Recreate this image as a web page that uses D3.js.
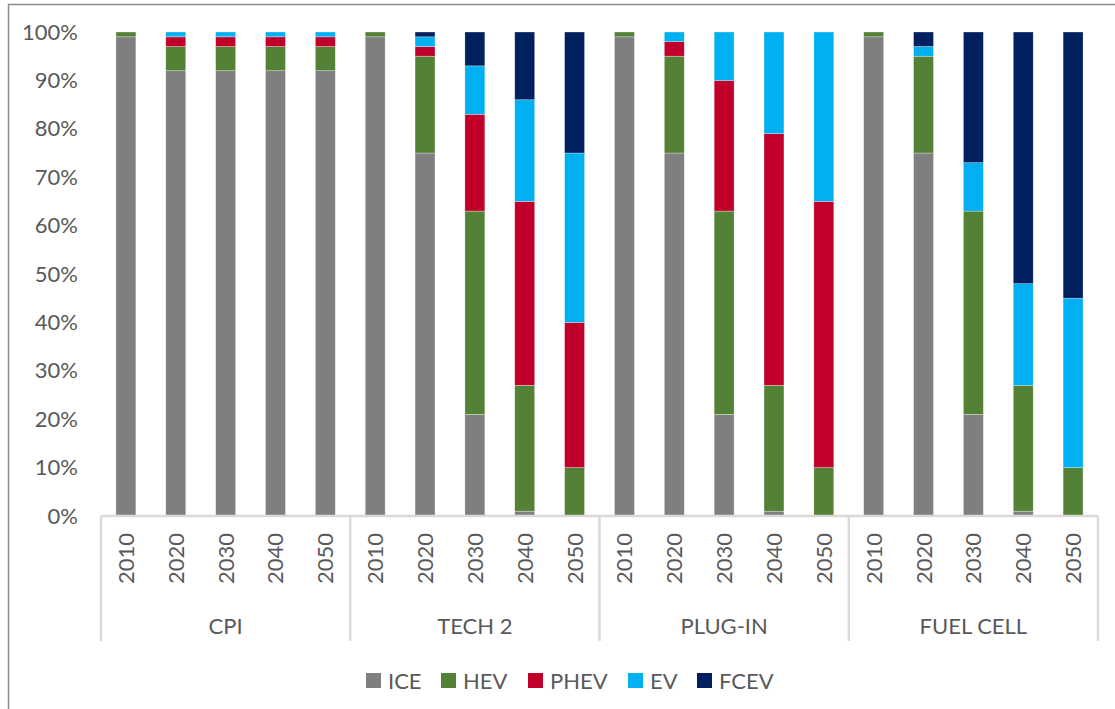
<!DOCTYPE html>
<html>
<head>
<meta charset="utf-8">
<script src="https://cdn.jsdelivr.net/npm/d3@7"></script>
<style>
  body { margin: 0; background: #fff; }
  text { font-family: Lato, "Open Sans", sans-serif; fill: #595959; }
</style>
</head>
<body>
<svg width="1115" height="709"></svg>
<script>
// scenarios and years on the two-level category axis
const groups = ["CPI", "TECH 2", "PLUG-IN", "FUEL CELL"];
const years = ["2010", "2020", "2030", "2040", "2050"];
const series = ["ICE", "HEV", "PHEV", "EV", "FCEV"];
const colors = ["#7f7f7f", "#538135", "#c0002b", "#00b0f0", "#002060"];
const yTicks = [0, 0.1, 0.2, 0.3, 0.4, 0.5, 0.6, 0.7, 0.8, 0.9, 1];

// shares (%) per bar, order = groups x years
const ICE  = [99, 92, 92, 92, 92,  99, 75, 21, 1, 0,  99, 75, 21, 1, 0,  99, 75, 21, 1, 0];
const HEV  = [1, 5, 5, 5, 5,       1, 20, 42, 26, 10, 1, 20, 42, 26, 10, 1, 20, 42, 26, 10];
const PHEV = [0, 2, 2, 2, 2,       0, 2, 20, 38, 30,  0, 3, 27, 52, 55,  0, 0, 0, 0, 0];
const EV   = [0, 1, 1, 1, 1,       0, 2, 10, 21, 35,  0, 2, 10, 21, 35,  0, 2, 10, 21, 35];
const FCEV = [0, 0, 0, 0, 0,       0, 1, 7, 14, 25,   0, 0, 0, 0, 0,     0, 3, 27, 52, 55];

const rows = [];
groups.forEach((g, gi) => years.forEach((y, yi) => {
  const i = gi * years.length + yi;
  rows.push({ key: g + "|" + y, group: g, year: y,
    ICE: ICE[i], HEV: HEV[i], PHEV: PHEV[i], EV: EV[i], FCEV: FCEV[i] });
}));

const svg = d3.select("svg");
const plotL = 101, plotR = 1098, plotT = 32, plotB = 516;
const fs = "22px";

// chart frame
svg.append("rect").attr("x", 8.5).attr("y", 4.5).attr("width", 1120).attr("height", 720)
  .attr("fill", "none").attr("stroke", "#8c8c8c").attr("stroke-width", 1.5);

const x = d3.scaleBand().domain(rows.map(d => d.key)).range([plotL, plotR])
  .paddingInner(0.6).paddingOuter(0.3);
const y = d3.scaleLinear().domain([0, 100]).range([plotB, plotT]);
const color = d3.scaleOrdinal().domain(series).range(colors);

const stacked = d3.stack().keys(series)(rows);

svg.append("g").selectAll("g").data(stacked).join("g")
  .attr("fill", d => color(d.key))
  .selectAll("rect").data(d => d).join("rect")
  .attr("x", d => x(d.data.key))
  .attr("y", d => y(d[1]))
  .attr("width", x.bandwidth())
  .attr("height", d => y(d[0]) - y(d[1]))
  .attr("stroke", "#fff").attr("stroke-opacity", 0.5).attr("stroke-width", 0.6);

// y axis labels
const yAxis = svg.append("g").attr("transform", `translate(${plotL},0)`)
  .call(d3.axisLeft(y).tickValues(yTicks.map(v => v * 100)).tickSize(0).tickPadding(23)
    .tickFormat(v => v + "%"));
yAxis.select(".domain").remove();
yAxis.selectAll("text").style("font-size", fs).attr("fill", "#595959");

// category axis lines
const axisG = svg.append("g").attr("stroke", "#d9d9d9").attr("stroke-width", 2.5);
axisG.append("line").attr("x1", plotL).attr("x2", plotR).attr("y1", plotB).attr("y2", plotB);
const step = x.step();
const groupEdge = gi => plotL + gi * years.length * step;
d3.range(groups.length + 1).forEach(gi => {
  axisG.append("line").attr("x1", groupEdge(gi)).attr("x2", groupEdge(gi))
    .attr("y1", plotB).attr("y2", 641);
});

// year labels (rotated)
svg.append("g").selectAll("text").data(rows).join("text")
  .attr("transform", d => `translate(${x(d.key) + x.bandwidth() / 2 + 8},533) rotate(-90)`)
  .attr("text-anchor", "end")
  .style("font-size", fs)
  .text(d => d.year);

// group labels
svg.append("g").selectAll("text").data(groups).join("text")
  .attr("x", (g, gi) => (groupEdge(gi) + groupEdge(gi + 1)) / 2)
  .attr("y", 634)
  .attr("text-anchor", "middle")
  .style("font-size", fs)
  .text(g => g);

// legend
const legendX = [366, 441, 528, 628, 697];
const lg = svg.append("g").selectAll("g").data(series).join("g")
  .attr("transform", (s, i) => `translate(${legendX[i]},673)`);
lg.append("rect").attr("width", 15).attr("height", 15).attr("fill", s => color(s));
lg.append("text").attr("x", 22).attr("y", 15.5).style("font-size", fs).text(s => s);
</script>
</body>
</html>
